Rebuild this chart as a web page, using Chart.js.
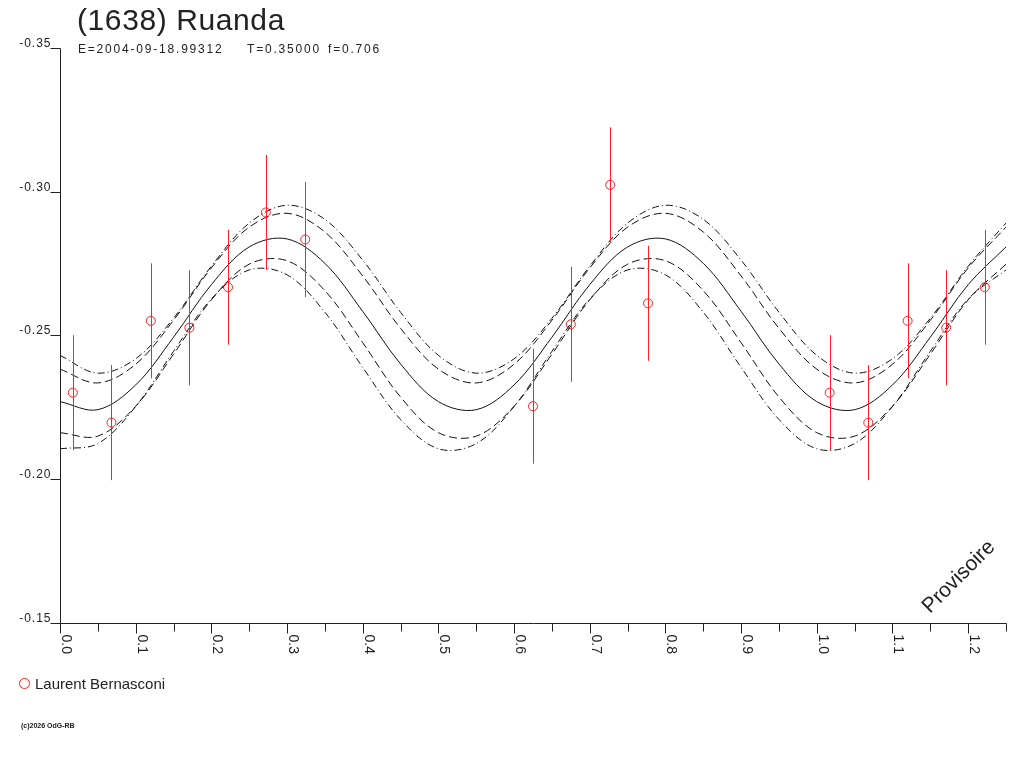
<!DOCTYPE html>
<html>
  <head>
    <meta charset="UTF-8">
    <title>(1638) Ruanda</title>
    <script src="https://cdn.jsdelivr.net/npm/chart.js"></script>
    <style>
      html, body { margin: 0; padding: 0; background: #fff; }
      canvas { display: block; }
    </style>
  </head>
  <body>
    <canvas id="lc" width="1024" height="768"></canvas>

    <script>
      // texts
      const title = '(1638) Ruanda';
      const subtitle = ['E=2004-09-18.99312', 'T=0.35000', 'f=0.706'];
      const observer = 'Laurent Bernasconi';
      const stamp = 'Provisoire';
      const credit = '(c)2026 OdG-RB';

      // observations (phase, magnitude, error)
      const obsPhase = [0.017, 0.068, 0.120, 0.171, 0.222, 0.272, 0.324, 0.625, 0.675, 0.727, 0.777,
                        1.017, 1.068, 1.120, 1.171, 1.222];
      const obsMag = [-0.2301, -0.2197, -0.2551, -0.2527, -0.2668, -0.2928, -0.2834, -0.2254, -0.2539, -0.3024, -0.2612,
                      -0.2301, -0.2197, -0.2551, -0.2527, -0.2668];
      const obsErr = [0.020, 0.020, 0.020, 0.020, 0.020, 0.020, 0.020, 0.020, 0.020, 0.020, 0.020,
                      0.020, 0.020, 0.020, 0.020, 0.020];

      // fitted curve and its envelopes, read every 0.05 in phase
      const curvePhase = [0.00, 0.05, 0.10, 0.15, 0.20, 0.25, 0.30, 0.35, 0.40, 0.45,
                          0.50, 0.55, 0.60, 0.65, 0.70, 0.75, 0.80, 0.85, 0.90, 0.95,
                          1.00, 1.05, 1.10, 1.15, 1.20, 1.25];
      const fitMag = [-0.2270, -0.2242, -0.2328, -0.2494, -0.2677, -0.2808, -0.2836, -0.2751, -0.2584, -0.2401,
                      -0.2270, -0.2242, -0.2328, -0.2494, -0.2677, -0.2808, -0.2836, -0.2751, -0.2584, -0.2401,
                      -0.2270, -0.2242, -0.2328, -0.2494, -0.2677, -0.2808];
      const upperOuter = [-0.2431, -0.2369, -0.2419, -0.2560, -0.2741, -0.2891, -0.2953, -0.2904, -0.2762, -0.2581,
                          -0.2431, -0.2369, -0.2419, -0.2560, -0.2741, -0.2891, -0.2953, -0.2904, -0.2762, -0.2581,
                          -0.2431, -0.2369, -0.2419, -0.2560, -0.2741, -0.2891];
      const upperInner = [-0.2383, -0.2335, -0.2400, -0.2553, -0.2735, -0.2877, -0.2925, -0.2860, -0.2707, -0.2525,
                          -0.2383, -0.2335, -0.2400, -0.2553, -0.2735, -0.2877, -0.2925, -0.2860, -0.2707, -0.2525,
                          -0.2383, -0.2335, -0.2400, -0.2553, -0.2735, -0.2877];
      const lowerInner = [-0.2162, -0.2150, -0.2254, -0.2435, -0.2624, -0.2748, -0.2760, -0.2656, -0.2475, -0.2286,
                          -0.2162, -0.2150, -0.2254, -0.2435, -0.2624, -0.2748, -0.2760, -0.2656, -0.2475, -0.2286,
                          -0.2162, -0.2150, -0.2254, -0.2435, -0.2624, -0.2748];
      const lowerOuter = [-0.2106, -0.2124, -0.2253, -0.2445, -0.2627, -0.2728, -0.2711, -0.2581, -0.2389, -0.2208,
                          -0.2106, -0.2124, -0.2253, -0.2445, -0.2627, -0.2728, -0.2711, -0.2581, -0.2389, -0.2208,
                          -0.2106, -0.2124, -0.2253, -0.2445, -0.2627, -0.2728];

      // axes
      const xMajor = [0.0, 0.1, 0.2, 0.3, 0.4, 0.5, 0.6, 0.7, 0.8, 0.9, 1.0, 1.1, 1.2];
      const xMajorLabels = ['0.0', '0.1', '0.2', '0.3', '0.4', '0.5', '0.6', '0.7', '0.8', '0.9', '1.0', '1.1', '1.2'];
      const xMinor = [0.05, 0.15, 0.25, 0.35, 0.45, 0.55, 0.65, 0.75, 0.85, 0.95, 1.05, 1.15, 1.25];
      const yMajor = [-0.35, -0.30, -0.25, -0.20, -0.15];
      const yMajorLabels = ['-0.35', '-0.30', '-0.25', '-0.20', '-0.15'];

      const FONT = '"Liberation Sans", Arial, sans-serif';
      const INK = '#222';

      function pairs(xs, ys) {
        return xs.map((x, i) => ({ x: x, y: ys[i] }));
      }

      function curve(values, dash) {
        return {
          data: pairs(curvePhase, values),
          showLine: true,
          borderColor: '#111',
          borderWidth: 1,
          borderDash: dash,
          pointRadius: 0,
          tension: 0.35,
          fill: false
        };
      }

      // error bars through each observation
      const errorBars = {
        id: 'errorBars',
        afterDatasetsDraw(chart) {
          const ctx = chart.ctx;
          const xs = chart.scales.x, ys = chart.scales.y;
          ctx.save();
          ctx.strokeStyle = '#ff2020';
          ctx.lineWidth = 1;
          obsPhase.forEach((p, i) => {
            const px = Math.round(xs.getPixelForValue(p)) + 0.5;
            ctx.beginPath();
            ctx.moveTo(px, ys.getPixelForValue(obsMag[i] - obsErr[i]));
            ctx.lineTo(px, ys.getPixelForValue(obsMag[i] + obsErr[i]));
            ctx.stroke();
          });
          ctx.restore();
        }
      };

      // axes, titles, legend and stamps
      const decor = {
        id: 'decor',
        afterDraw(chart) {
          const ctx = chart.ctx;
          const xs = chart.scales.x, ys = chart.scales.y;
          const left = Math.round(xs.getPixelForValue(0)) + 0.5;
          const right = Math.round(xs.getPixelForValue(1.25)) + 0.5;
          const top = Math.round(ys.getPixelForValue(-0.35)) + 0.5;
          const bottom = Math.round(ys.getPixelForValue(-0.15)) + 0.5;

          ctx.save();
          ctx.strokeStyle = INK;
          ctx.fillStyle = INK;
          ctx.lineWidth = 1;

          // axis lines
          ctx.beginPath();
          ctx.moveTo(left, top);
          ctx.lineTo(left, bottom);
          ctx.lineTo(right, bottom);
          ctx.stroke();

          // y ticks and labels
          ctx.font = '12px ' + FONT;
          ctx.letterSpacing = '1px';
          ctx.textAlign = 'right';
          ctx.textBaseline = 'alphabetic';
          yMajor.forEach((v, i) => {
            const py = Math.round(ys.getPixelForValue(v)) + 0.5;
            ctx.beginPath();
            ctx.moveTo(left - 10, py);
            ctx.lineTo(left, py);
            ctx.stroke();
            ctx.fillText(yMajorLabels[i], left - 9, py - 2);
          });

          // x ticks and rotated labels
          xMinor.forEach(v => {
            const px = Math.round(xs.getPixelForValue(v)) + 0.5;
            ctx.beginPath();
            ctx.moveTo(px, bottom);
            ctx.lineTo(px, bottom + 8);
            ctx.stroke();
          });
          ctx.textAlign = 'left';
          ctx.font = '14px ' + FONT;
          ctx.letterSpacing = '0px';
          xMajor.forEach((v, i) => {
            const px = Math.round(xs.getPixelForValue(v)) + 0.5;
            ctx.beginPath();
            ctx.moveTo(px, bottom);
            ctx.lineTo(px, bottom + 10);
            ctx.stroke();
            ctx.save();
            ctx.translate(px + 1, bottom + 11);
            ctx.rotate(Math.PI / 2);
            ctx.fillText(xMajorLabels[i], 0, 0);
            ctx.restore();
          });

          // title block
          ctx.textAlign = 'left';
          ctx.font = '30px ' + FONT;
          ctx.letterSpacing = '0.6px';
          ctx.fillText(title, 77, 30);
          ctx.font = '12px ' + FONT;
          ctx.letterSpacing = '1.8px';
          ctx.fillText(subtitle[0], 78, 53);
          ctx.fillText(subtitle[1], 247, 53);
          ctx.fillText(subtitle[2], 328, 53);
          ctx.letterSpacing = '0px';

          // legend
          ctx.strokeStyle = '#ff2020';
          ctx.beginPath();
          ctx.arc(24.5, 683.5, 5, 0, Math.PI * 2);
          ctx.stroke();
          ctx.font = '15px ' + FONT;
          ctx.fillText(observer, 35, 689);

          // credit
          ctx.font = 'bold 7px ' + FONT;
          ctx.fillText(credit, 21, 728);

          // provisional stamp
          ctx.save();
          ctx.translate(930, 614);
          ctx.rotate(-Math.PI / 4);
          ctx.font = '21px ' + FONT;
          ctx.fillText(stamp, 0, 0);
          ctx.restore();

          ctx.restore();
        }
      };

      new Chart(document.getElementById('lc'), {
        type: 'scatter',
        data: {
          datasets: [
            curve(fitMag, []),
            curve(upperInner, [8, 4]),
            curve(lowerInner, [8, 4]),
            curve(upperOuter, [7, 3, 1, 3]),
            curve(lowerOuter, [7, 3, 1, 3]),
            {
              data: pairs(obsPhase, obsMag),
              pointStyle: 'circle',
              pointRadius: 4.5,
              pointBorderWidth: 1,
              pointBorderColor: '#ff2020',
              pointBackgroundColor: 'rgba(0,0,0,0)',
              showLine: false
            }
          ]
        },
        options: {
          responsive: false,
          animation: false,
          devicePixelRatio: 1,
          layout: { padding: { left: 60, right: 18, top: 48, bottom: 145 } },
          plugins: {
            legend: { display: false },
            tooltip: { enabled: false }
          },
          scales: {
            x: { type: 'linear', min: 0, max: 1.25, display: false },
            y: { type: 'linear', min: -0.35, max: -0.15, reverse: true, display: false }
          }
        },
        plugins: [errorBars, decor]
      });
    </script>
  </body>
</html>
